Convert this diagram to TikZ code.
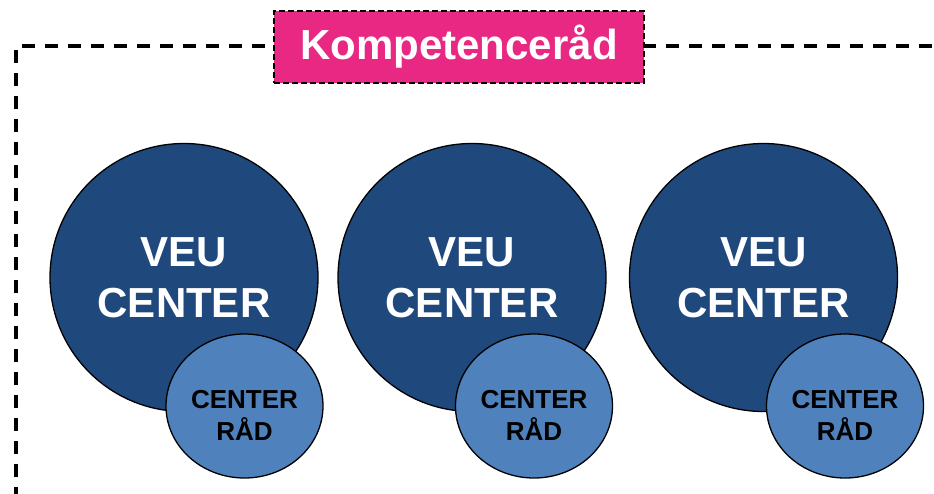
\documentclass[tikz,border=0pt]{standalone}
\usepackage{fontspec}
\setmainfont{Liberation Sans}
\usetikzlibrary{shapes.geometric}
\definecolor{veublue}{RGB}{31,73,125}
\definecolor{raadblue}{RGB}{79,129,189}
\definecolor{kmagenta}{RGB}{232,40,130}
\tikzset{
  bigc/.style={circle, draw=black, line width=1.3pt, fill=veublue, minimum size=268pt, inner sep=0pt,
    text=white, font=\fontsize{42}{51}\selectfont\bfseries, align=center},
  smallc/.style={ellipse, draw=black, line width=1.3pt, fill=raadblue, minimum width=157pt, minimum height=144pt, inner sep=0pt},
  smalltext/.style={text=black, font=\fontsize{26}{32}\selectfont\bfseries, align=center, inner sep=0pt},
  frameline/.style={draw=black, line width=3.2pt, dash pattern=on 13pt off 10pt},
  titlebox/.style={rectangle, draw=black, line width=1.4pt, dash pattern=on 6pt off 3pt, fill=kmagenta,
    minimum width=370pt, minimum height=72pt, inner sep=0pt, text=white, font=\fontsize{42}{50}\selectfont\bfseries}
}
\begin{document}
\begin{tikzpicture}[x=1pt,y=-1pt]
\useasboundingbox (0,0) rectangle (934,493);
\coordinate (fb) at (16,500);
\coordinate (fc) at (16,46);
\coordinate (fr) at (940,46);
\draw[frameline] (fb) -- (fc) -- (fr);
\node[titlebox] (title) at (459,47) {Kompetenceråd};
\node[bigc] (v1) at (184,277.5) {VEU\\CENTER};
\node[smallc] (r1) at (244.5,406) {};
\node[smalltext, yshift=-9pt] (t1) at (r1.center) {CENTER\\RÅD};
\node[bigc] (v2) at (472,277.5) {VEU\\CENTER};
\node[smallc] (r2) at (534,406) {};
\node[smalltext, yshift=-9pt] (t2) at (r2.center) {CENTER\\RÅD};
\node[bigc] (v3) at (763.5,277.5) {VEU\\CENTER};
\node[smallc] (r3) at (845,406) {};
\node[smalltext, yshift=-9pt] (t3) at (r3.center) {CENTER\\RÅD};
\end{tikzpicture}
\end{document}
